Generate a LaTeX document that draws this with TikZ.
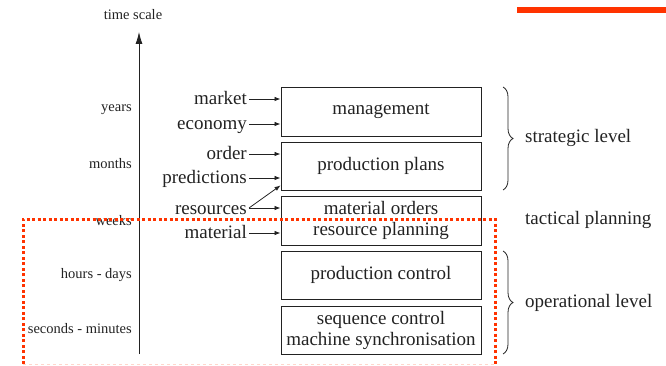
\documentclass[tikz,border=0pt]{standalone}
\usepackage{fontspec}
\setmainfont{Liberation Serif}
\usetikzlibrary{arrows.meta,decorations.pathreplacing}
\definecolor{slidered}{HTML}{FF3300}
\definecolor{ink}{HTML}{222222}

\begin{document}
\begin{tikzpicture}
    [
        x=1pt, y=-1pt,
        every node/.style={font=\fontsize{19}{21}\selectfont, text=ink},
        level/.style={draw=ink, line width=0.9pt, minimum width=200pt, inner sep=0pt, align=center},
        scalelabel/.style={anchor=base east, inner sep=0pt, font=\fontsize{14.5}{16}\selectfont},
        input/.style={anchor=base east, inner sep=2pt},
        layer/.style={anchor=base west, inner sep=0pt},
        line/.style={draw=ink, line width=0.8pt},
        frame/.style={draw=slidered, line width=3pt, dash pattern=on 3pt off 2.5pt},
        >={Latex[length=6pt, width=4.5pt]},
    ]
  \useasboundingbox (0,0) rectangle (666,366);
  \fill[slidered] (517,7) rectangle (666,13);

  % Time axis
  \node (T) at (133,15) [font=\fontsize{14.5}{16}\selectfont] {time scale};
  \coordinate (A0) at (139,354);
  \coordinate (A1) at (139,32);
  \draw [line, -{Latex[length=12pt, width=7pt]}] (A0) -- (A1);
  \node [scalelabel] (Y) at (132,112) {years};
  \node [scalelabel] (M) at (132,169) {months};
  \node [scalelabel] (W) at (132,225) {weeks};
  \node [scalelabel] (H) at (132,278) {hours - days};
  \node [scalelabel] (S) at (132,333) {seconds - minutes};

  % Nodes
  \node [level, minimum height=49pt] (MG) at (381,111.5) {management};
  \node [level, minimum height=48pt] (PP) at (381,166) {production plans};
  \node [level, minimum height=49pt] (MO) at (381,220.5) {material orders\\resource planning};
  \node [level, minimum height=48pt] (PC) at (381,275) {production control};
  \node [level, minimum height=48pt] (SC) at (381,330) {sequence control\\machine synchronisation};

  \node [input] (mkt) at (249,105) {market};
  \node [input] (eco) at (249,130) {economy};
  \node [input] (ord) at (249,160) {order};
  \node [input] (pre) at (249,184) {predictions};
  \node [input] (res) at (249,214) {resources};
  \node [input] (mat) at (249,238) {material};

  \node [layer] (SL) at (525,143) {strategic level};
  \node [layer] (TP) at (525,224) {tactical planning};
  \node [layer] (OL) at (525,307) {operational level};

  % Connections
  \foreach \i/\j/\y in {mkt/MG/99, eco/MG/124, ord/PP/154, pre/PP/178, res/MO/208, mat/MO/233}
    \draw [line, ->] (\i.east |- 0,\y) -- (\j.west |- 0,\y);
  \draw [line, ->] (res.east |- 0,208) -- ([yshift=5pt]PP.south west);

  % Braces
  \coordinate (B0) at (503,87);
  \coordinate (B1) at (503,190);
  \coordinate (B2) at (503,251);
  \coordinate (B3) at (503,354);
  \draw [line, decorate, decoration={brace, amplitude=10pt}] (B0) -- (B1);
  \draw [line, decorate, decoration={brace, amplitude=10pt}] (B2) -- (B3);

  % Operational frame
  \draw [frame] (23,364) -- (23,219) -- (495,219) -- (495,364);
  \draw [slidered!20, line width=1pt, dashed] (23,364) -- (495,364);
\end{tikzpicture}
\end{document}
